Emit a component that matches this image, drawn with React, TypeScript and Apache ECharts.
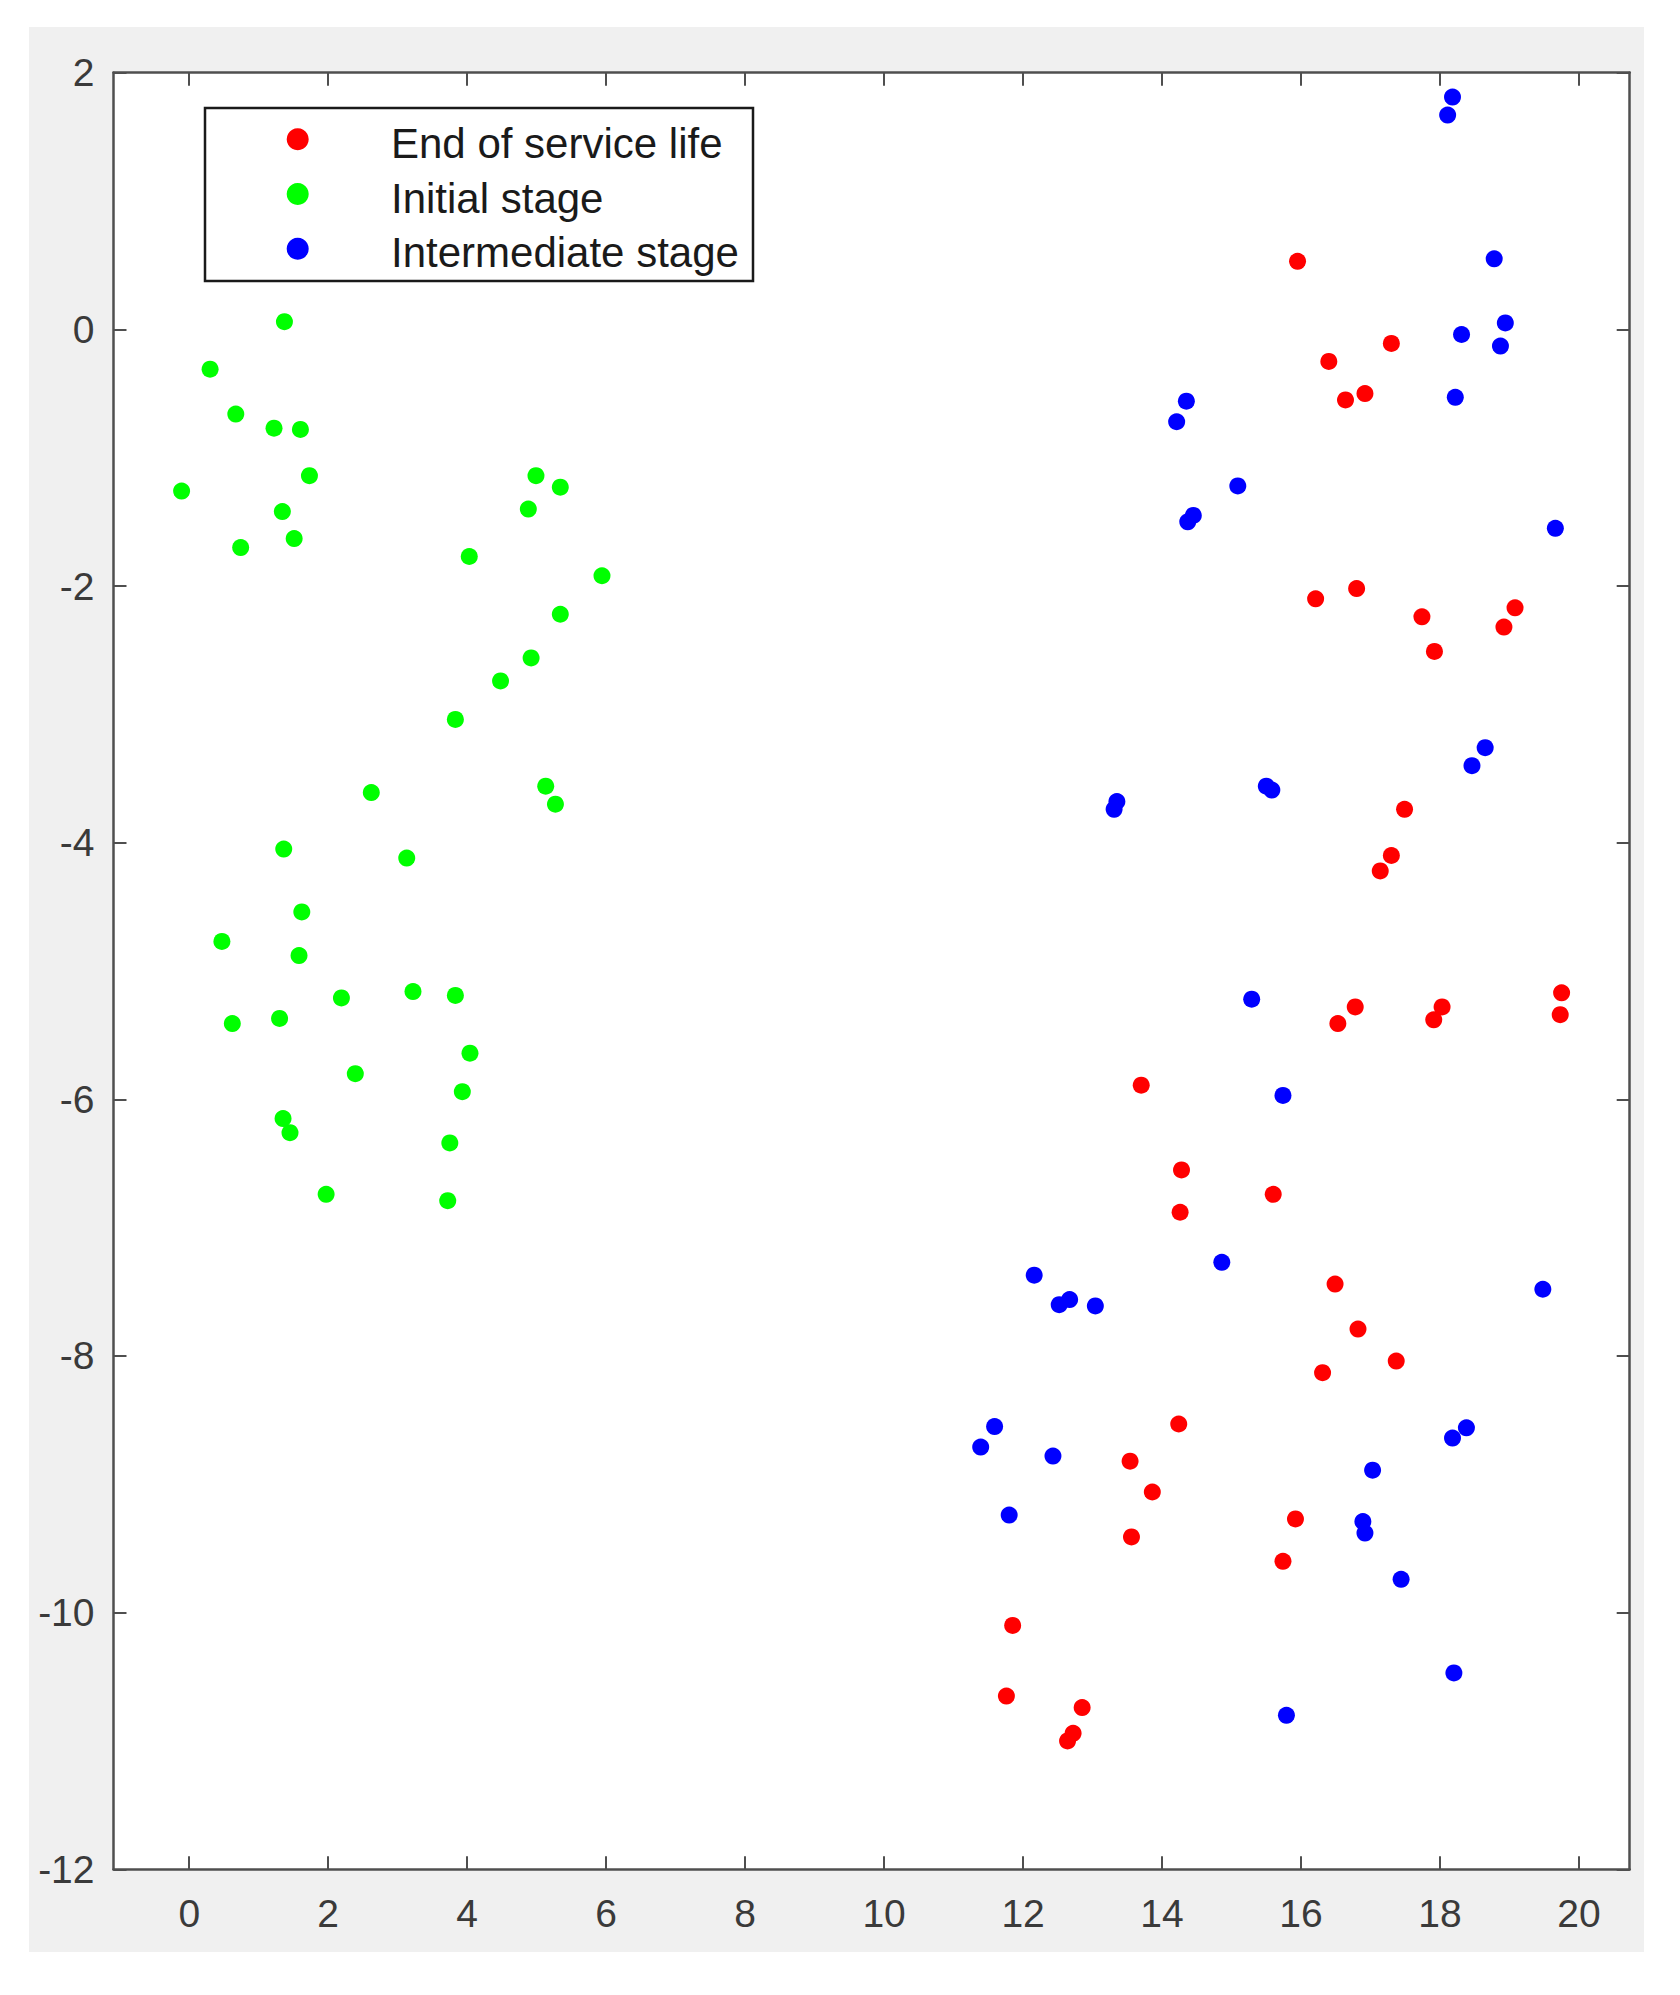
import React, { useEffect, useRef } from "react";
import * as echarts from "echarts";

const seriesNames = ["End of service life", "Initial stage", "Intermediate stage"];
const seriesColors = ["#ff0000", "#00ff00", "#0000ff"];

const endOfLife: number[][] = [
  [15.95, 0.53], [17.3, -0.11], [16.4, -0.25], [16.92, -0.5], [16.64, -0.55],
  [16.8, -2.02], [16.21, -2.1], [17.74, -2.24], [19.08, -2.17], [18.92, -2.32],
  [17.92, -2.51], [17.49, -3.74], [17.3, -4.1], [17.14, -4.22], [16.78, -5.28],
  [16.53, -5.41], [18.03, -5.28], [17.91, -5.38], [19.75, -5.17], [19.73, -5.34],
  [13.7, -5.89], [14.28, -6.55], [15.6, -6.74], [14.26, -6.88], [16.49, -7.44],
  [16.82, -7.79], [17.37, -8.04], [16.31, -8.13], [14.24, -8.53], [13.54, -8.82],
  [13.86, -9.06], [15.92, -9.27], [13.56, -9.41], [15.74, -9.6], [11.85, -10.1],
  [11.76, -10.65], [12.85, -10.74], [12.72, -10.94], [12.64, -11.0],
];

const initialStage: number[][] = [
  [1.37, 0.06], [0.3, -0.31], [0.67, -0.66], [1.22, -0.77], [1.6, -0.78],
  [1.73, -1.14], [-0.11, -1.26], [1.34, -1.42], [1.51, -1.63], [0.74, -1.7],
  [4.99, -1.14], [5.34, -1.23], [4.88, -1.4], [4.03, -1.77], [5.94, -1.92],
  [5.34, -2.22], [4.92, -2.56], [4.48, -2.74], [3.83, -3.04], [2.62, -3.61],
  [5.13, -3.56], [5.27, -3.7], [1.36, -4.05], [3.13, -4.12], [1.62, -4.54],
  [0.47, -4.77], [1.58, -4.88], [2.19, -5.21], [3.22, -5.16], [3.83, -5.19],
  [0.62, -5.41], [1.3, -5.37], [4.04, -5.64], [2.39, -5.8], [3.93, -5.94],
  [1.35, -6.15], [1.45, -6.26], [3.75, -6.34], [1.97, -6.74], [3.72, -6.79],
];

const intermediateStage: number[][] = [
  [18.18, 1.81], [18.11, 1.67], [18.78, 0.55], [18.94, 0.05], [18.31, -0.04],
  [18.87, -0.13], [18.22, -0.53], [14.35, -0.56], [14.21, -0.72], [15.09, -1.22],
  [14.45, -1.45], [14.37, -1.5], [19.66, -1.55], [18.65, -3.26], [18.46, -3.4],
  [15.5, -3.56], [15.58, -3.59], [13.35, -3.68], [13.31, -3.74], [15.29, -5.22],
  [15.74, -5.97], [14.86, -7.27], [12.16, -7.37], [19.48, -7.48], [12.67, -7.56],
  [12.52, -7.6], [13.04, -7.61], [11.59, -8.55], [18.38, -8.56], [18.18, -8.64],
  [11.39, -8.71], [12.43, -8.78], [17.03, -8.89], [11.8, -9.24], [16.89, -9.29],
  [16.92, -9.38], [17.44, -9.74], [18.2, -10.47], [15.79, -10.8],
];

const xTicks = [0, 2, 4, 6, 8, 10, 12, 14, 16, 18, 20];
const yTicks = [2, 0, -2, -4, -6, -8, -10, -12];
const xRange = [-1.09, 20.73];
const yRange = [-12, 2];

export default function App() {
  const ref = useRef<HTMLDivElement>(null);

  useEffect(() => {
    if (!ref.current) return;
    const chart = echarts.init(ref.current, null, { renderer: "svg" });
    const font = "'Liberation Sans', Arial, Helvetica, sans-serif";
    const axisColor = "#4f4f4f";

    const baseX = {
      type: "value" as const,
      min: xRange[0],
      max: xRange[1],
      splitLine: { show: false },
      axisLine: { show: true, onZero: false, lineStyle: { color: axisColor, width: 2.5 } },
      axisTick: {
        show: true,
        inside: true,
        length: 13,
        customValues: xTicks,
        lineStyle: { color: axisColor, width: 2 },
      },
    };
    const baseY = {
      type: "value" as const,
      min: yRange[0],
      max: yRange[1],
      interval: 2,
      splitLine: { show: false },
      axisLine: { show: true, onZero: false, lineStyle: { color: axisColor, width: 2.5 } },
      axisTick: {
        show: true,
        inside: true,
        length: 13,
        customValues: yTicks,
        lineStyle: { color: axisColor, width: 2 },
      },
    };

    const datasets = [endOfLife, initialStage, intermediateStage];

    // Legend box drawn as graphic elements
    const legendLeft = 205;
    const legendTop = 108;
    const legendW = 548;
    const legendH = 173;
    const rowY = [139.3, 194, 248.7];
    const legendChildren: any[] = [
      {
        type: "rect",
        shape: { x: legendLeft, y: legendTop, width: legendW, height: legendH },
        style: { fill: "#ffffff", stroke: "#1a1a1a", lineWidth: 2.5 },
      },
    ];
    seriesNames.forEach((name, i) => {
      legendChildren.push({
        type: "circle",
        shape: { cx: 297.7, cy: rowY[i], r: 11 },
        style: { fill: seriesColors[i] },
      });
      legendChildren.push({
        type: "text",
        x: 391,
        y: rowY[i] + 4,
        style: {
          text: name,
          fontSize: 42,
          fontFamily: font,
          fill: "#1a1a1a",
          verticalAlign: "middle",
          align: "left",
        },
      });
    });

    chart.setOption({
      animation: false,
      backgroundColor: "transparent",
      grid: {
        left: 113.5,
        right: 50.3,
        top: 72.7,
        bottom: 125.7,
        show: true,
        backgroundColor: "#ffffff",
        borderWidth: 0,
      },
      xAxis: [
        {
          ...baseX,
          position: "bottom",
          axisLabel: {
            show: true,
            customValues: xTicks,
            margin: 25,
            fontSize: 39,
            fontFamily: font,
            color: "#3a3a3a",
          },
        },
        {
          ...baseX,
          position: "top",
          axisLabel: { show: false },
        },
      ],
      yAxis: [
        {
          ...baseY,
          position: "left",
          axisLabel: {
            show: true,
            margin: 19,
            fontSize: 39,
            fontFamily: font,
            color: "#3a3a3a",
          },
        },
        {
          ...baseY,
          position: "right",
          axisLabel: { show: false },
        },
      ],
      graphic: [{ type: "group", children: legendChildren, z: 100 }],
      series: datasets.map((d, i) => ({
        type: "scatter",
        name: seriesNames[i],
        data: d,
        symbol: "circle",
        symbolSize: 17,
        itemStyle: { color: seriesColors[i], opacity: 1 },
        xAxisIndex: 0,
        yAxisIndex: 0,
      })),
    });

    return () => chart.dispose();
  }, []);

  return (
    <div
      style={{
        position: "fixed",
        left: 0,
        top: 0,
        width: 1680,
        height: 1995,
        background: "#ffffff",
      }}
    >
      <div
        style={{
          position: "absolute",
          left: 29,
          top: 27,
          width: 1615,
          height: 1925,
          background: "#f0f0f0",
        }}
      />
      <div
        ref={ref}
        style={{ position: "absolute", left: 0, top: 0, width: 1680, height: 1995 }}
      />
    </div>
  );
}
